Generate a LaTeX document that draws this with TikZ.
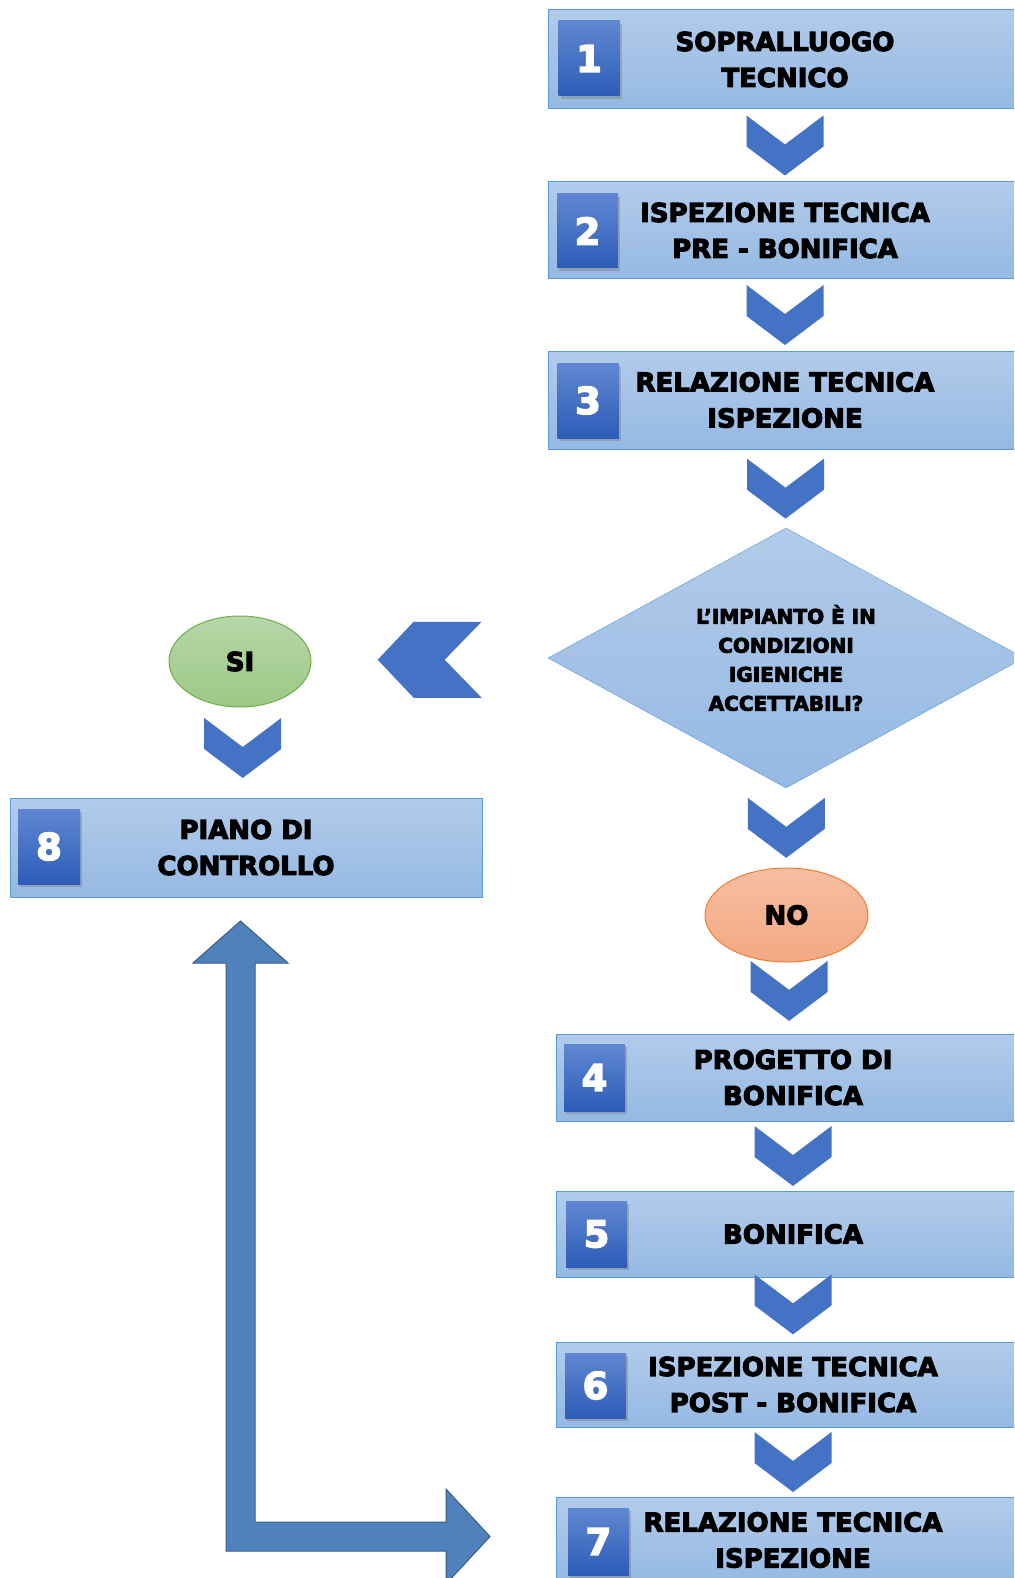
\documentclass[tikz,border=0pt]{standalone}
\usepackage{fontspec}
\newfontfamily\heavyfont{DejaVu Sans Bold}[FakeBold=4]
\usetikzlibrary{calc}
\usetikzlibrary{shapes.geometric}
\usetikzlibrary{shadows}

\definecolor{boxtop}{RGB}{178,203,234}
\definecolor{boxbot}{RGB}{149,185,227}
\definecolor{boxline}{RGB}{91,155,213}
\definecolor{chev}{RGB}{68,114,196}
\definecolor{numtop}{RGB}{96,135,210}
\definecolor{numbot}{RGB}{45,93,184}
\definecolor{sitop}{RGB}{183,215,168}
\definecolor{sibot}{RGB}{156,200,134}
\definecolor{siline}{RGB}{112,173,71}
\definecolor{notop}{RGB}{246,190,162}
\definecolor{nobot}{RGB}{244,168,130}
\definecolor{noline}{RGB}{237,125,49}
\definecolor{loopfill}{RGB}{79,129,189}
\definecolor{loopline}{RGB}{56,93,138}

\begin{document}
\begin{tikzpicture}[x=1pt,y=-1pt,
    stepbox/.style={rectangle,draw=boxline,line width=1pt,top color=boxtop,bottom color=boxbot,
        minimum width=474pt,inner sep=0pt,align=center,font=\heavyfont\fontsize{26}{36}\selectfont},
    numbox/.style={rectangle,top color=numtop,bottom color=numbot,minimum width=61pt,inner sep=0pt,
        text=white,font=\heavyfont\fontsize{37}{37}\selectfont,
        drop shadow={opacity=0.45,shadow xshift=2pt,shadow yshift=-3pt}},
    answer/.style={ellipse,line width=1pt,inner sep=0pt,font=\heavyfont\fontsize{26}{30}\selectfont},
    chevdown/.pic={\fill[chev] (-38.5,-30) -- (0,-1) -- (38.5,-30) -- (38.5,1) -- (0,30) -- (-38.5,1) -- cycle;},
    chevleft/.pic={\fill[chev] (-52,0) -- (-16,-38) -- (52,-38) -- (15,0) -- (52,38) -- (-16,38) -- cycle;}
]
\useasboundingbox (0,0) rectangle (1014,1578);
\clip (0,0) rectangle (1014,1578);

% ritorno al piano di controllo
\draw[loopline,fill=loopfill,line width=1pt] (240.5,921) -- (288,963) -- (255,963) -- (255,1522)
    -- (446,1522) -- (446,1489) -- (490,1536.5) -- (446,1584) -- (446,1551) -- (226,1551)
    -- (226,963) -- (193,963) -- cycle;

% fasi
\node[stepbox,minimum height=99pt] (b1) at (785,59.5) {SOPRALLUOGO\\TECNICO};
\node[stepbox,minimum height=97pt] (b2) at (785,230.5) {ISPEZIONE TECNICA\\PRE - BONIFICA};
\node[stepbox,minimum height=98pt] (b3) at (785,400) {RELAZIONE TECNICA\\ISPEZIONE};
\node[diamond,aspect=1.83,inner sep=0pt,minimum width=476pt,minimum height=260pt,draw=boxline,
    top color=boxtop,bottom color=boxbot,align=center,font=\heavyfont\fontsize{20}{29}\selectfont]
    (d) at (786,658) {L’IMPIANTO È IN\\CONDIZIONI\\IGIENICHE\\ACCETTABILI?};
\node[answer,draw=siline,top color=sitop,bottom color=sibot,minimum width=142pt,minimum height=91pt]
    (si) at (240,661.5) {SI};
\node[stepbox,minimum width=472pt,minimum height=99pt] (b8) at (246,847.5) {PIANO DI\\CONTROLLO};
\node[answer,draw=noline,top color=notop,bottom color=nobot,minimum width=163pt,minimum height=94pt]
    (no) at (786.5,915) {NO};
\node[stepbox,minimum height=87pt] (b4) at (793,1077.5) {PROGETTO DI\\BONIFICA};
\node[stepbox,minimum height=86pt] (b5) at (793,1234) {BONIFICA};
\node[stepbox,minimum height=85pt] (b6) at (793,1384.5) {ISPEZIONE TECNICA\\POST - BONIFICA};
\node[stepbox,minimum height=86pt] (b7) at (793,1540) {RELAZIONE TECNICA\\ISPEZIONE};

% numeri
\node[numbox,minimum height=75pt] (n1) at (589,58.5) {1};
\node[numbox,minimum height=74pt] (n2) at (587.5,231) {2};
\node[numbox,minimum height=75pt] (n3) at (588,400.5) {3};
\node[numbox,minimum height=75pt,minimum width=62pt] (n8) at (49,846.5) {8};
\node[numbox,minimum height=67pt] (n4) at (594.5,1077.5) {4};
\node[numbox,minimum height=66pt] (n5) at (596.5,1234) {5};
\node[numbox,minimum height=65pt] (n6) at (595.5,1385.5) {6};
\node[numbox,minimum height=67pt] (n7) at (598.5,1541.5) {7};

% frecce
\pic at ($(b1.south)!0.5!(b2.north)$) {chevdown};
\pic at ($(b2.south)!0.5!(b3.north)$) {chevdown};
\pic at ($(b3.south)!0.5!(d.north)$) {chevdown};
\pic at ($(d.west)!0.5!(si.east)$) {chevleft};
\pic at ($(si.south)!0.45!(b8.north)$) {chevdown};
\pic at ($(d.south)!0.5!(no.north)$) {chevdown};
\pic at ($(no.south)!0.4!(b4.north)$) {chevdown};
\pic at ($(b4.south)!0.5!(b5.north)$) {chevdown};
\pic at ($(b5.south)!0.42!(b6.north)$) {chevdown};
\pic at ($(b6.south)!0.5!(b7.north)$) {chevdown};
\end{tikzpicture}
\end{document}
